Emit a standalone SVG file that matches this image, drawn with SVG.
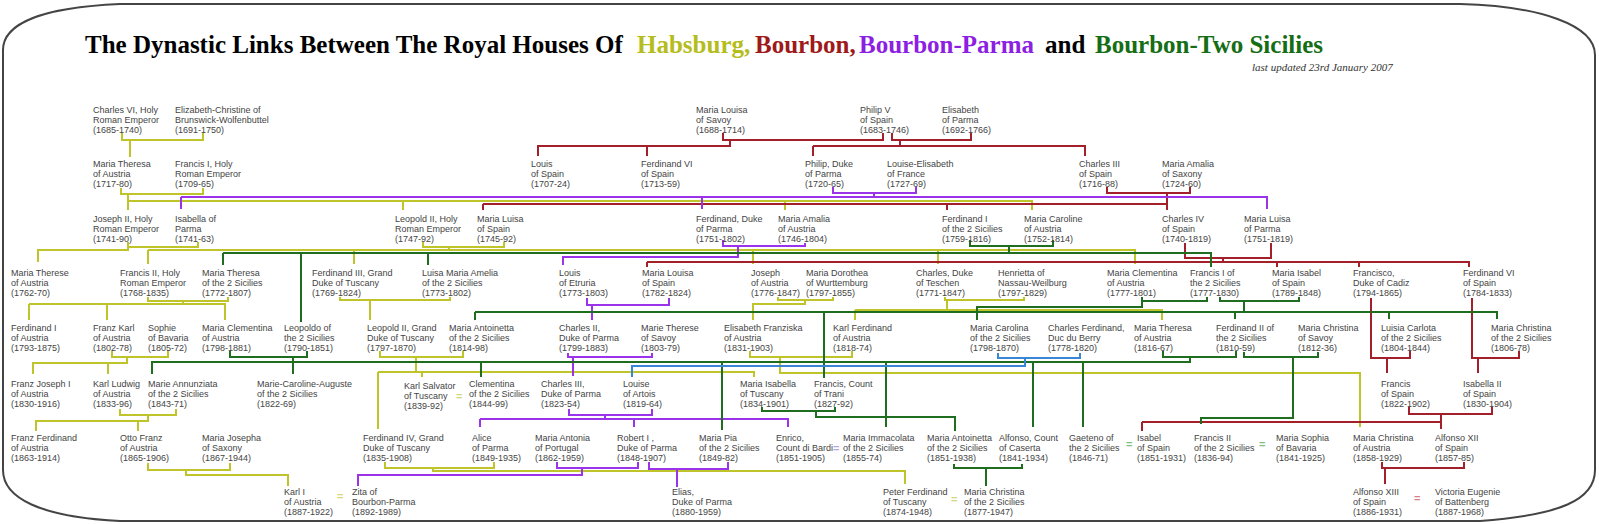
<svg xmlns="http://www.w3.org/2000/svg" width="1599" height="524" viewBox="0 0 1599 524">
<style>
.bg{fill:#fff}
.frame{fill:none;stroke:#444;stroke-width:2}
.t{font-family:"Liberation Serif","Times New Roman",serif;font-weight:bold;font-size:25px}
.upd{font-family:"Liberation Serif","Times New Roman",serif;font-style:italic;font-size:11px;fill:#333}
.n{font-family:"Liberation Sans",Arial,sans-serif;font-size:9px;fill:#444}
.eq{font-family:"Liberation Sans",Arial,sans-serif;font-size:11px;font-weight:bold}
.c path{fill:none;stroke-width:2}
.y{stroke:#bfc42a}
.r{stroke:#a3202a}
.p{stroke:#9a33ea}
.g{stroke:#1f6e1f}
.b{stroke:#3a86d6}
</style>
<rect class="bg" x="0" y="0" width="1599" height="524"/>
<path class="frame" d="M3,50 C3,28 30,8 120,4 L1460,4 C1540,6 1595,25 1595,55 L1595,470 C1595,500 1560,515 1480,521 L120,521 C40,517 3,498 3,470 Z"/>
<g id="title">
<text class="t" y="53"><tspan x="85" fill="#000">The Dynastic Links Between The Royal Houses Of</tspan><tspan x="637" fill="#b5bd1c">Habsburg,</tspan><tspan x="755" fill="#9e1a1a">Bourbon,</tspan><tspan x="859" fill="#8c1fe2">Bourbon-Parma</tspan><tspan x="1045" fill="#000">and</tspan><tspan x="1095" fill="#156d15">Bourbon-Two Sicilies</tspan></text>
<text class="upd" x="1252" y="71">last updated 23rd January 2007</text>
</g>
<g id="connectors" class="c">
<!-- Habsburg (yellow) -->
<path class="y" d="M122,133 V140 H203 V133 M130,140 V157"/>
<path class="y" d="M121,188 V194 H203 V188 M128,194 V210 M128,201 H1032 V210 M403,201 V210 M785,201 V210"/>
<path class="y" d="M128,242 V247 H198 V242 M128,247 V250 H38 V262"/>
<path class="y" d="M423,242 V247 H504 V242 M449,247 V250 M148,250 H1135 V264 M148,250 V264 M354,250 V264 M753,250 V264 M938,250 V264"/>
<path class="y" d="M148,297 V301 H228 V297 M183,301 V304 M29,304 H225 V320 M29,304 V320 M107,304 V320"/>
<path class="y" d="M340,297 V300 H450 V297 M370,300 V320"/>
<path class="y" d="M778,297 V300 H833 V297 M805,300 V304 H753 V320"/>
<path class="y" d="M945,297 V300 H1024 V297 M947,300 V310 M855,310 H1162 V320 M855,310 V320"/>
<path class="y" d="M112,351 V357 H168 V351 M127,357 V363 H33 V374 M108,363 V374"/>
<path class="y" d="M380,351 V357 H463 V351 M416,357 V372 M378,372 H754 V377 M378,372 V429 M422,372 V377"/>
<path class="y" d="M750,351 V357 H852 V351 M780,357 V373 H1360 V427"/>
<path class="y" d="M120,409 V415 H176 V409 M148,415 V421 H36 V431 M138,421 V431"/>
<path class="y" d="M148,463 V470 H230 V463 M186,470 V475 H288 V486"/>
<path class="y" d="M385,462 V468 H494 V462 M433,468 V471 H905 V484"/>
<!-- Bourbon (red) -->
<path class="r" d="M723,133 V140 H883 V133 M730,140 V146 H538 V156 M647,146 V156"/>
<path class="r" d="M892,133 V140 H971 V133 M900,140 V146 M813,146 H1085 V156 M813,146 V156"/>
<path class="r" d="M1107,187 V193 H1190 V187 M1167,193 V210 M483,204 H1167 M483,204 V210 M947,204 V210"/>
<path class="r" d="M1185,243 V258 H1271 V243 M1223,258 V262 M647,262 H1469 V267 M647,262 V267 M1277,262 V267 M1359,262 V267"/>
<path class="r" d="M1371,298 V358 H1410 V351 M1387,358 V373"/>
<path class="r" d="M1472,298 V358 H1519 V351 M1478,358 V373"/>
<path class="r" d="M1409,407 V414 H1492 V407 M1441,414 V429 M1142,422 H1441 M1142,422 V431"/>
<path class="r" d="M1382,462 V468 H1464 V462 M1385,468 V484"/>
<!-- Bourbon-Parma (purple) -->
<path class="p" d="M833,187 V193 H916 V187 M874,193 V197 M181,197 H1267 V209 M181,197 V209 M702,197 V209"/>
<path class="p" d="M723,240 V246 H805 V243 M738,246 V257 H563 V265"/>
<path class="p" d="M587,298 V305 H669 V298 M592,305 V320"/>
<path class="p" d="M568,353 V357 H652 V353 M573,357 V376"/>
<path class="p" d="M569,409 V415 H652 V409 M605,415 V419 M480,419 H788 V427 M480,419 V427 M634,419 V427"/>
<path class="p" d="M557,462 V468 H638 V462 M582,468 V475 H358 V486"/>
<path class="p" d="M649,462 V469 H728 V462 M677,469 V487"/>
<!-- Bourbon-Two Sicilies (green) -->
<path class="g" d="M970,240 V246 H1053 V240 M1009,246 V253 M223,253 H1211 V267 M223,253 V265 M301,253 V322 M428,253 V265"/>
<path class="g" d="M1142,297 V301 H1207 V297 M1142,301 V307 H977 V320"/>
<path class="g" d="M1220,297 V301 H1299 V297 M1244,301 V312 M475,312 H1497 V319 M475,312 V320 M824,312 V378 M1235,312 V319 M1389,312 V319"/>
<path class="g" d="M230,351 V357 H307 V351 M293,357 V374"/>
<path class="g" d="M1163,351 V357 H1236 V351 M1190,357 V362 H152 V374 M481,362 V377 M722,362 V430 M886,362 V427 M1033,362 V427 M1083,362 V427"/>
<path class="g" d="M1244,352 V357 H1318 V352 M1293,357 V418 H1201 V424"/>
<path class="g" d="M762,407 V411 H835 V407 M816,411 V417 H955 V431"/>
<path class="g" d="M954,464 V468 H1022 V464 M986,468 V486"/>
<!-- blue -->
<path class="b" d="M998,353 V358 H1080 V353 M1025,358 V366 H632 V377"/>
</g>
<g id="marriages" class="eq">
<text x="456" y="400" fill="#d3d77a">=</text>
<text x="833" y="451.5" fill="#b9a6d8">=</text>
<text x="1126" y="447.5" fill="#7fbf7f">=</text>
<text x="1259" y="447.5" fill="#7fbf7f">=</text>
<text x="337" y="499.5" fill="#d3d77a">=</text>
<text x="951" y="503" fill="#d3d77a">=</text>
<text x="1414" y="502" fill="#d97f8c">=</text>
</g>
<g id="nodes" class="n">
<g id="charles6"><text y="112.5"><tspan x="93">Charles VI, Holy</tspan><tspan x="93" dy="10">Roman Emperor</tspan><tspan x="93" dy="10">(1685-1740)</tspan></text></g>
<g id="elizabeth-christine"><text y="112.5"><tspan x="175">Elizabeth-Christine of</tspan><tspan x="175" dy="10">Brunswick-Wolfenbuttel</tspan><tspan x="175" dy="10">(1691-1750)</tspan></text></g>
<g id="maria-louisa-savoy"><text y="112.5"><tspan x="696">Maria Louisa</tspan><tspan x="696" dy="10">of Savoy</tspan><tspan x="696" dy="10">(1688-1714)</tspan></text></g>
<g id="philip5"><text y="112.5"><tspan x="860">Philip V</tspan><tspan x="860" dy="10">of Spain</tspan><tspan x="860" dy="10">(1683-1746)</tspan></text></g>
<g id="elisabeth-parma"><text y="112.5"><tspan x="942">Elisabeth</tspan><tspan x="942" dy="10">of Parma</tspan><tspan x="942" dy="10">(1692-1766)</tspan></text></g>

<g id="maria-theresa"><text y="166.5"><tspan x="93">Maria Theresa</tspan><tspan x="93" dy="10">of Austria</tspan><tspan x="93" dy="10">(1717-80)</tspan></text></g>
<g id="francis1"><text y="166.5"><tspan x="175">Francis I, Holy</tspan><tspan x="175" dy="10">Roman Emperor</tspan><tspan x="175" dy="10">(1709-65)</tspan></text></g>
<g id="louis-spain"><text y="166.5"><tspan x="531">Louis</tspan><tspan x="531" dy="10">of Spain</tspan><tspan x="531" dy="10">(1707-24)</tspan></text></g>
<g id="ferdinand6-spain-a"><text y="166.5"><tspan x="641">Ferdinand VI</tspan><tspan x="641" dy="10">of Spain</tspan><tspan x="641" dy="10">(1713-59)</tspan></text></g>
<g id="philip-parma"><text y="166.5"><tspan x="805">Philip, Duke</tspan><tspan x="805" dy="10">of Parma</tspan><tspan x="805" dy="10">(1720-65)</tspan></text></g>
<g id="louise-elisabeth"><text y="166.5"><tspan x="887">Louise-Elisabeth</tspan><tspan x="887" dy="10">of France</tspan><tspan x="887" dy="10">(1727-69)</tspan></text></g>
<g id="charles3-spain"><text y="166.5"><tspan x="1079">Charles III</tspan><tspan x="1079" dy="10">of Spain</tspan><tspan x="1079" dy="10">(1716-88)</tspan></text></g>
<g id="maria-amalia-saxony"><text y="166.5"><tspan x="1162">Maria Amalia</tspan><tspan x="1162" dy="10">of Saxony</tspan><tspan x="1162" dy="10">(1724-60)</tspan></text></g>

<g id="joseph2"><text y="221.5"><tspan x="93">Joseph II, Holy</tspan><tspan x="93" dy="10">Roman Emperor</tspan><tspan x="93" dy="10">(1741-90)</tspan></text></g>
<g id="isabella-parma"><text y="221.5"><tspan x="175">Isabella of</tspan><tspan x="175" dy="10">Parma</tspan><tspan x="175" dy="10">(1741-63)</tspan></text></g>
<g id="leopold2"><text y="221.5"><tspan x="395">Leopold II, Holy</tspan><tspan x="395" dy="10">Roman Emperor</tspan><tspan x="395" dy="10">(1747-92)</tspan></text></g>
<g id="maria-luisa-spain"><text y="221.5"><tspan x="477">Maria Luisa</tspan><tspan x="477" dy="10">of Spain</tspan><tspan x="477" dy="10">(1745-92)</tspan></text></g>
<g id="ferdinand-parma"><text y="221.5"><tspan x="696">Ferdinand, Duke</tspan><tspan x="696" dy="10">of Parma</tspan><tspan x="696" dy="10">(1751-1802)</tspan></text></g>
<g id="maria-amalia-austria"><text y="221.5"><tspan x="778">Maria Amalia</tspan><tspan x="778" dy="10">of Austria</tspan><tspan x="778" dy="10">(1746-1804)</tspan></text></g>
<g id="ferdinand1-sicilies"><text y="221.5"><tspan x="942">Ferdinand I</tspan><tspan x="942" dy="10">of the 2 Sicilies</tspan><tspan x="942" dy="10">(1759-1816)</tspan></text></g>
<g id="maria-caroline"><text y="221.5"><tspan x="1024">Maria Caroline</tspan><tspan x="1024" dy="10">of Austria</tspan><tspan x="1024" dy="10">(1752-1814)</tspan></text></g>
<g id="charles4"><text y="221.5"><tspan x="1162">Charles IV</tspan><tspan x="1162" dy="10">of Spain</tspan><tspan x="1162" dy="10">(1740-1819)</tspan></text></g>
<g id="maria-luisa-parma"><text y="221.5"><tspan x="1244">Maria Luisa</tspan><tspan x="1244" dy="10">of Parma</tspan><tspan x="1244" dy="10">(1751-1819)</tspan></text></g>

<g id="maria-therese-austria"><text y="276"><tspan x="11">Maria Therese</tspan><tspan x="11" dy="10">of Austria</tspan><tspan x="11" dy="10">(1762-70)</tspan></text></g>
<g id="francis2"><text y="276"><tspan x="120">Francis II, Holy</tspan><tspan x="120" dy="10">Roman Emperor</tspan><tspan x="120" dy="10">(1768-1835)</tspan></text></g>
<g id="maria-theresa-sicilies"><text y="276"><tspan x="202">Maria Theresa</tspan><tspan x="202" dy="10">of the 2 Sicilies</tspan><tspan x="202" dy="10">(1772-1807)</tspan></text></g>
<g id="ferdinand3-tuscany"><text y="276"><tspan x="312">Ferdinand III, Grand</tspan><tspan x="312" dy="10">Duke of Tuscany</tspan><tspan x="312" dy="10">(1769-1824)</tspan></text></g>
<g id="luisa-maria-amelia"><text y="276"><tspan x="422">Luisa Maria Amelia</tspan><tspan x="422" dy="10">of the 2 Sicilies</tspan><tspan x="422" dy="10">(1773-1802)</tspan></text></g>
<g id="louis-etruria"><text y="276"><tspan x="559">Louis</tspan><tspan x="559" dy="10">of Etruria</tspan><tspan x="559" dy="10">(1773-1803)</tspan></text></g>
<g id="maria-louisa-spain"><text y="276"><tspan x="642">Maria Louisa</tspan><tspan x="642" dy="10">of Spain</tspan><tspan x="642" dy="10">(1782-1824)</tspan></text></g>
<g id="joseph-austria"><text y="276"><tspan x="751">Joseph</tspan><tspan x="751" dy="10">of Austria</tspan><tspan x="751" dy="10">(1776-1847)</tspan></text></g>
<g id="maria-dorothea"><text y="276"><tspan x="806">Maria Dorothea</tspan><tspan x="806" dy="10">of Wurttemburg</tspan><tspan x="806" dy="10">(1797-1855)</tspan></text></g>
<g id="charles-teschen"><text y="276"><tspan x="916">Charles, Duke</tspan><tspan x="916" dy="10">of Teschen</tspan><tspan x="916" dy="10">(1771-1847)</tspan></text></g>
<g id="henrietta"><text y="276"><tspan x="998">Henrietta of</tspan><tspan x="998" dy="10">Nassau-Weilburg</tspan><tspan x="998" dy="10">(1797-1829)</tspan></text></g>
<g id="maria-clementina-1777"><text y="276"><tspan x="1107">Maria Clementina</tspan><tspan x="1107" dy="10">of Austria</tspan><tspan x="1107" dy="10">(1777-1801)</tspan></text></g>
<g id="francis1-sicilies"><text y="276"><tspan x="1190">Francis I of</tspan><tspan x="1190" dy="10">the 2 Sicilies</tspan><tspan x="1190" dy="10">(1777-1830)</tspan></text></g>
<g id="maria-isabel-spain"><text y="276"><tspan x="1272">Maria Isabel</tspan><tspan x="1272" dy="10">of Spain</tspan><tspan x="1272" dy="10">(1789-1848)</tspan></text></g>
<g id="francisco-cadiz"><text y="276"><tspan x="1353">Francisco,</tspan><tspan x="1353" dy="10">Duke of Cadiz</tspan><tspan x="1353" dy="10">(1794-1865)</tspan></text></g>
<g id="ferdinand6-spain-b"><text y="276"><tspan x="1463">Ferdinand VI</tspan><tspan x="1463" dy="10">of Spain</tspan><tspan x="1463" dy="10">(1784-1833)</tspan></text></g>

<g id="ferdinand1-austria"><text y="330.5"><tspan x="11">Ferdinand I</tspan><tspan x="11" dy="10">of Austria</tspan><tspan x="11" dy="10">(1793-1875)</tspan></text></g>
<g id="franz-karl"><text y="330.5"><tspan x="93">Franz Karl</tspan><tspan x="93" dy="10">of Austria</tspan><tspan x="93" dy="10">(1802-78)</tspan></text></g>
<g id="sophie-bavaria"><text y="330.5"><tspan x="148">Sophie</tspan><tspan x="148" dy="10">of Bavaria</tspan><tspan x="148" dy="10">(1805-72)</tspan></text></g>
<g id="maria-clementina-1798"><text y="330.5"><tspan x="202">Maria Clementina</tspan><tspan x="202" dy="10">of Austria</tspan><tspan x="202" dy="10">(1798-1881)</tspan></text></g>
<g id="leopoldo-sicilies"><text y="330.5"><tspan x="284">Leopoldo of</tspan><tspan x="284" dy="10">the 2 Sicilies</tspan><tspan x="284" dy="10">(1790-1851)</tspan></text></g>
<g id="leopold2-tuscany"><text y="330.5"><tspan x="367">Leopold II, Grand</tspan><tspan x="367" dy="10">Duke of Tuscany</tspan><tspan x="367" dy="10">(1797-1870)</tspan></text></g>
<g id="maria-antoinetta-1814"><text y="330.5"><tspan x="449">Maria Antoinetta</tspan><tspan x="449" dy="10">of the 2 Sicilies</tspan><tspan x="449" dy="10">(1814-98)</tspan></text></g>
<g id="charles2-parma"><text y="330.5"><tspan x="559">Charles II,</tspan><tspan x="559" dy="10">Duke of Parma</tspan><tspan x="559" dy="10">(1799-1883)</tspan></text></g>
<g id="marie-therese-savoy"><text y="330.5"><tspan x="641">Marie Therese</tspan><tspan x="641" dy="10">of Savoy</tspan><tspan x="641" dy="10">(1803-79)</tspan></text></g>
<g id="elisabeth-franziska"><text y="330.5"><tspan x="724">Elisabeth Franziska</tspan><tspan x="724" dy="10">of Austria</tspan><tspan x="724" dy="10">(1831-1903)</tspan></text></g>
<g id="karl-ferdinand"><text y="330.5"><tspan x="833">Karl Ferdinand</tspan><tspan x="833" dy="10">of Austria</tspan><tspan x="833" dy="10">(1818-74)</tspan></text></g>
<g id="maria-carolina"><text y="330.5"><tspan x="970">Maria Carolina</tspan><tspan x="970" dy="10">of the 2 Sicilies</tspan><tspan x="970" dy="10">(1798-1870)</tspan></text></g>
<g id="charles-ferdinand-berry"><text y="330.5"><tspan x="1048">Charles Ferdinand,</tspan><tspan x="1048" dy="10">Duc du Berry</tspan><tspan x="1048" dy="10">(1778-1820)</tspan></text></g>
<g id="maria-theresa-1816"><text y="330.5"><tspan x="1134">Maria Theresa</tspan><tspan x="1134" dy="10">of Austria</tspan><tspan x="1134" dy="10">(1816-67)</tspan></text></g>
<g id="ferdinand2-sicilies"><text y="330.5"><tspan x="1216">Ferdinand II of</tspan><tspan x="1216" dy="10">the 2 Sicilies</tspan><tspan x="1216" dy="10">(1810-59)</tspan></text></g>
<g id="maria-christina-savoy"><text y="330.5"><tspan x="1298">Maria Christina</tspan><tspan x="1298" dy="10">of Savoy</tspan><tspan x="1298" dy="10">(1812-36)</tspan></text></g>
<g id="luisia-carlota"><text y="330.5"><tspan x="1381">Luisia Carlota</tspan><tspan x="1381" dy="10">of the 2 Sicilies</tspan><tspan x="1381" dy="10">(1804-1844)</tspan></text></g>
<g id="maria-christina-1806"><text y="330.5"><tspan x="1491">Maria Christina</tspan><tspan x="1491" dy="10">of the 2 Sicilies</tspan><tspan x="1491" dy="10">(1806-78)</tspan></text></g>

<g id="franz-joseph"><text y="386.5"><tspan x="11">Franz Joseph I</tspan><tspan x="11" dy="10">of Austria</tspan><tspan x="11" dy="10">(1830-1916)</tspan></text></g>
<g id="karl-ludwig"><text y="386.5"><tspan x="93">Karl Ludwig</tspan><tspan x="93" dy="10">of Austria</tspan><tspan x="93" dy="10">(1833-96)</tspan></text></g>
<g id="marie-annunziata"><text y="386.5"><tspan x="148">Marie Annunziata</tspan><tspan x="148" dy="10">of the 2 Sicilies</tspan><tspan x="148" dy="10">(1843-71)</tspan></text></g>
<g id="marie-caroline-auguste"><text y="386.5"><tspan x="257">Marie-Caroline-Auguste</tspan><tspan x="257" dy="10">of the 2 Sicilies</tspan><tspan x="257" dy="10">(1822-69)</tspan></text></g>
<g id="karl-salvator"><text y="388.5"><tspan x="404">Karl Salvator</tspan><tspan x="404" dy="10">of Tuscany</tspan><tspan x="404" dy="10">(1839-92)</tspan></text></g>
<g id="clementina"><text y="386.5"><tspan x="469">Clementina</tspan><tspan x="469" dy="10">of the 2 Sicilies</tspan><tspan x="469" dy="10">(1844-99)</tspan></text></g>
<g id="charles3-parma"><text y="386.5"><tspan x="541">Charles III,</tspan><tspan x="541" dy="10">Duke of Parma</tspan><tspan x="541" dy="10">(1823-54)</tspan></text></g>
<g id="louise-artois"><text y="386.5"><tspan x="623">Louise</tspan><tspan x="623" dy="10">of Artois</tspan><tspan x="623" dy="10">(1819-64)</tspan></text></g>
<g id="maria-isabella-tuscany"><text y="386.5"><tspan x="740">Maria Isabella</tspan><tspan x="740" dy="10">of Tuscany</tspan><tspan x="740" dy="10">(1834-1901)</tspan></text></g>
<g id="francis-trani"><text y="386.5"><tspan x="814">Francis, Count</tspan><tspan x="814" dy="10">of Trani</tspan><tspan x="814" dy="10">(1827-92)</tspan></text></g>
<g id="francis-spain"><text y="386.5"><tspan x="1381">Francis</tspan><tspan x="1381" dy="10">of Spain</tspan><tspan x="1381" dy="10">(1822-1902)</tspan></text></g>
<g id="isabella2"><text y="386.5"><tspan x="1463">Isabella II</tspan><tspan x="1463" dy="10">of Spain</tspan><tspan x="1463" dy="10">(1830-1904)</tspan></text></g>

<g id="franz-ferdinand"><text y="441"><tspan x="11">Franz Ferdinand</tspan><tspan x="11" dy="10">of Austria</tspan><tspan x="11" dy="10">(1863-1914)</tspan></text></g>
<g id="otto-franz"><text y="441"><tspan x="120">Otto Franz</tspan><tspan x="120" dy="10">of Austria</tspan><tspan x="120" dy="10">(1865-1906)</tspan></text></g>
<g id="maria-josepha"><text y="441"><tspan x="202">Maria Josepha</tspan><tspan x="202" dy="10">of Saxony</tspan><tspan x="202" dy="10">(1867-1944)</tspan></text></g>
<g id="ferdinand4-tuscany"><text y="441"><tspan x="363">Ferdinand IV, Grand</tspan><tspan x="363" dy="10">Duke of Tuscany</tspan><tspan x="363" dy="10">(1835-1908)</tspan></text></g>
<g id="alice-parma"><text y="441"><tspan x="472">Alice</tspan><tspan x="472" dy="10">of Parma</tspan><tspan x="472" dy="10">(1849-1935)</tspan></text></g>
<g id="maria-antonia"><text y="441"><tspan x="535">Maria Antonia</tspan><tspan x="535" dy="10">of Portugal</tspan><tspan x="535" dy="10">(1862-1959)</tspan></text></g>
<g id="robert1"><text y="441"><tspan x="617">Robert I ,</tspan><tspan x="617" dy="10">Duke of Parma</tspan><tspan x="617" dy="10">(1848-1907)</tspan></text></g>
<g id="maria-pia"><text y="441"><tspan x="699">Maria Pia</tspan><tspan x="699" dy="10">of the 2 Sicilies</tspan><tspan x="699" dy="10">(1849-82)</tspan></text></g>
<g id="enrico"><text y="441"><tspan x="776">Enrico,</tspan><tspan x="776" dy="10">Count di Bardi</tspan><tspan x="776" dy="10">(1851-1905)</tspan></text></g>
<g id="maria-immacolata"><text y="441"><tspan x="843">Maria Immacolata</tspan><tspan x="843" dy="10">of the 2 Sicilies</tspan><tspan x="843" dy="10">(1855-74)</tspan></text></g>
<g id="maria-antoinetta-1851"><text y="441"><tspan x="927">Maria Antoinetta</tspan><tspan x="927" dy="10">of the 2 Sicilies</tspan><tspan x="927" dy="10">(1851-1938)</tspan></text></g>
<g id="alfonso-caserta"><text y="441"><tspan x="999">Alfonso, Count</tspan><tspan x="999" dy="10">of Caserta</tspan><tspan x="999" dy="10">(1841-1934)</tspan></text></g>
<g id="gaeteno"><text y="441"><tspan x="1069">Gaeteno of</tspan><tspan x="1069" dy="10">the 2 Sicilies</tspan><tspan x="1069" dy="10">(1846-71)</tspan></text></g>
<g id="isabel-spain"><text y="441"><tspan x="1137">Isabel</tspan><tspan x="1137" dy="10">of Spain</tspan><tspan x="1137" dy="10">(1851-1931)</tspan></text></g>
<g id="francis2-sicilies"><text y="441"><tspan x="1194">Francis II</tspan><tspan x="1194" dy="10">of the 2 Sicilies</tspan><tspan x="1194" dy="10">(1836-94)</tspan></text></g>
<g id="maria-sophia"><text y="441"><tspan x="1276">Maria Sophia</tspan><tspan x="1276" dy="10">of Bavaria</tspan><tspan x="1276" dy="10">(1841-1925)</tspan></text></g>
<g id="maria-christina-austria"><text y="441"><tspan x="1353">Maria Christina</tspan><tspan x="1353" dy="10">of Austria</tspan><tspan x="1353" dy="10">(1858-1929)</tspan></text></g>
<g id="alfonso12"><text y="441"><tspan x="1435">Alfonso XII</tspan><tspan x="1435" dy="10">of Spain</tspan><tspan x="1435" dy="10">(1857-85)</tspan></text></g>

<g id="karl1"><text y="494.5"><tspan x="284">Karl I</tspan><tspan x="284" dy="10">of Austria</tspan><tspan x="284" dy="10">(1887-1922)</tspan></text></g>
<g id="zita"><text y="494.5"><tspan x="352">Zita of</tspan><tspan x="352" dy="10">Bourbon-Parma</tspan><tspan x="352" dy="10">(1892-1989)</tspan></text></g>
<g id="elias"><text y="494.5"><tspan x="672">Elias,</tspan><tspan x="672" dy="10">Duke of Parma</tspan><tspan x="672" dy="10">(1880-1959)</tspan></text></g>
<g id="peter-ferdinand"><text y="494.5"><tspan x="883">Peter Ferdinand</tspan><tspan x="883" dy="10">of Tuscany</tspan><tspan x="883" dy="10">(1874-1948)</tspan></text></g>
<g id="maria-christina-1877"><text y="494.5"><tspan x="964">Maria Christina</tspan><tspan x="964" dy="10">of the 2 Sicilies</tspan><tspan x="964" dy="10">(1877-1947)</tspan></text></g>
<g id="alfonso13"><text y="494.5"><tspan x="1353">Alfonso XIII</tspan><tspan x="1353" dy="10">of Spain</tspan><tspan x="1353" dy="10">(1886-1931)</tspan></text></g>
<g id="victoria-eugenie"><text y="494.5"><tspan x="1435">Victoria Eugenie</tspan><tspan x="1435" dy="10">of Battenberg</tspan><tspan x="1435" dy="10">(1887-1968)</tspan></text></g>
</g>
</svg>
